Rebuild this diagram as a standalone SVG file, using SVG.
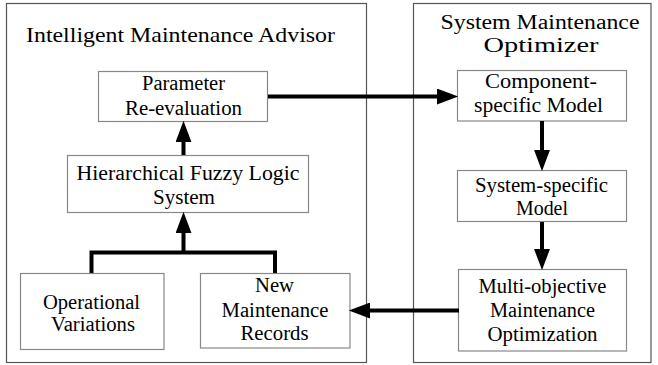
<svg xmlns="http://www.w3.org/2000/svg" width="658" height="365" viewBox="0 0 658 365">
<style>
.outer{fill:#fff;stroke:#555;stroke-width:1.2}
.node{fill:#fff;stroke:#888;stroke-width:1.2}
text{font-family:"Liberation Serif","Times New Roman",serif;fill:#000;text-anchor:middle}
.t{font-size:22px}
.t2{font-size:20px}
.n{font-size:20px}
.c{fill:none;stroke:#000;stroke-width:4}
</style>
<defs>
<marker id="ah" markerUnits="userSpaceOnUse" markerWidth="22" markerHeight="16" refX="2" refY="7.5" orient="auto" viewBox="0 0 20 15">
<path d="M0,0 L20,7.5 L0,15 Z" fill="#000"/>
</marker>
</defs>
<rect width="658" height="365" fill="#fff"/>
<g id="advisor">
<rect class="outer" x="6.5" y="3.5" width="360" height="359"/>
<text class="t" x="180.5" y="42" textLength="309" lengthAdjust="spacingAndGlyphs">Intelligent Maintenance Advisor</text>
</g>
<g id="optimizer">
<rect class="outer" x="413.5" y="3.5" width="237.5" height="359"/>
<text class="t2" x="540" y="29" textLength="199" lengthAdjust="spacingAndGlyphs">System Maintenance</text>
<text class="t2" x="541" y="51.5" textLength="115" lengthAdjust="spacingAndGlyphs">Optimizer</text>
</g>
<g id="param">
<rect class="node" x="98.5" y="71.5" width="169" height="50"/>
<text class="n" x="183.5" y="89.5" textLength="83" lengthAdjust="spacingAndGlyphs">Parameter</text>
<text class="n" x="183.5" y="115" textLength="117" lengthAdjust="spacingAndGlyphs">Re-evaluation</text>
</g>
<g id="hfls">
<rect class="node" x="67.5" y="155.5" width="241" height="57"/>
<text class="n" x="188" y="179.5" textLength="223" lengthAdjust="spacingAndGlyphs">Hierarchical Fuzzy Logic</text>
<text class="n" x="184" y="204" textLength="62" lengthAdjust="spacingAndGlyphs">System</text>
</g>
<g id="operational">
<rect class="node" x="20.5" y="273.5" width="143.5" height="76"/>
<text class="n" x="91.5" y="308.5" textLength="97" lengthAdjust="spacingAndGlyphs">Operational</text>
<text class="n" x="93" y="331" textLength="84" lengthAdjust="spacingAndGlyphs">Variations</text>
</g>
<g id="records">
<rect class="node" x="200.5" y="273.5" width="149.5" height="74.5"/>
<text class="n" x="274.5" y="291.5" textLength="39" lengthAdjust="spacingAndGlyphs">New</text>
<text class="n" x="275" y="316.5" textLength="107" lengthAdjust="spacingAndGlyphs">Maintenance</text>
<text class="n" x="274.5" y="340" textLength="68" lengthAdjust="spacingAndGlyphs">Records</text>
</g>
<g id="component">
<rect class="node" x="457.5" y="70.5" width="169" height="50.5"/>
<text class="n" x="541" y="87.5" textLength="112" lengthAdjust="spacingAndGlyphs">Component-</text>
<text class="n" x="538.5" y="111.5" textLength="129" lengthAdjust="spacingAndGlyphs">specific Model</text>
</g>
<g id="system">
<rect class="node" x="457.5" y="170.5" width="169" height="51"/>
<text class="n" x="541.5" y="191.5" textLength="133" lengthAdjust="spacingAndGlyphs">System-specific</text>
<text class="n" x="542" y="215" textLength="52" lengthAdjust="spacingAndGlyphs">Model</text>
</g>
<g id="multi">
<rect class="node" x="458.5" y="269.5" width="168" height="81.5"/>
<text class="n" x="542.5" y="293" textLength="128" lengthAdjust="spacingAndGlyphs">Multi-objective</text>
<text class="n" x="542.5" y="317" textLength="105" lengthAdjust="spacingAndGlyphs">Maintenance</text>
<text class="n" x="542.5" y="340.5" textLength="110" lengthAdjust="spacingAndGlyphs">Optimization</text>
</g>
<g id="connectors">
<path class="c" d="M183.5,155 V140" marker-end="url(#ah)"/>
<path class="c" d="M268,96.5 H439" marker-end="url(#ah)"/>
<path class="c" d="M542,121 V152" marker-end="url(#ah)"/>
<path class="c" d="M542,222 V251" marker-end="url(#ah)"/>
<path class="c" d="M459,310.5 H368" marker-end="url(#ah)"/>
<path class="c" d="M91.5,273 V252.5 H275 V273"/>
<path class="c" d="M183.5,252.5 V231" marker-end="url(#ah)"/>
</g>
</svg>
